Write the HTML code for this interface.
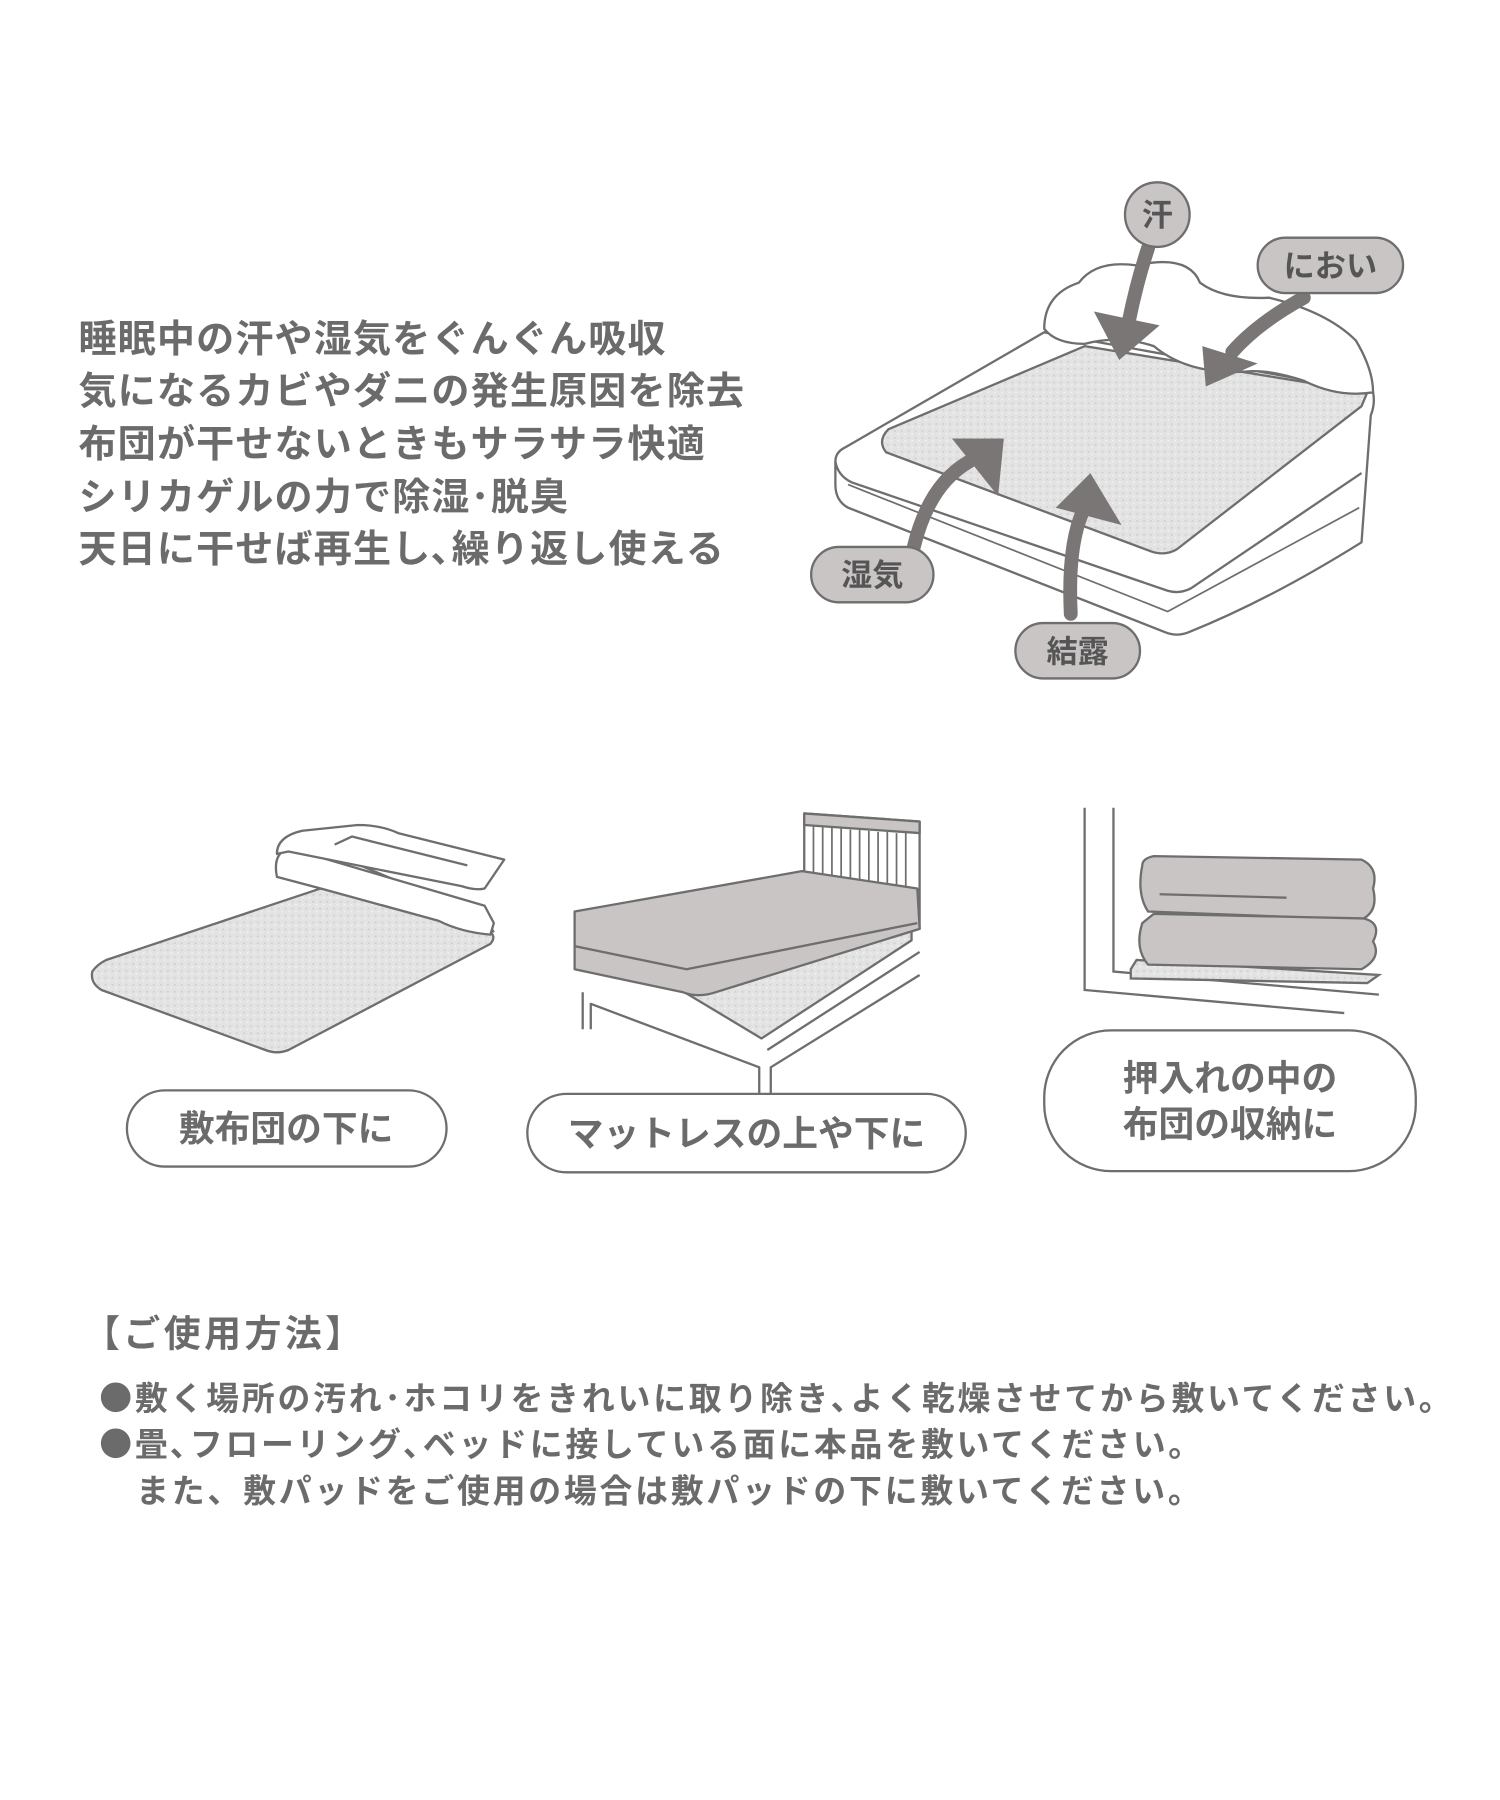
<!DOCTYPE html>
<html><head><meta charset="utf-8"><style>
html,body{margin:0;padding:0;background:#fff;width:1500px;height:1800px;overflow:hidden}
svg{display:block}
text{font-family:"Liberation Sans","Noto Sans CJK JP",sans-serif;font-weight:bold;fill:#6b6b6b}
.b{font-family:"Noto Sans CJK JP",sans-serif}
</style></head><body>
<svg width="1500" height="1800" viewBox="0 0 1300 1560" xmlns="http://www.w3.org/2000/svg">
<defs>
<pattern id="tx" width="6" height="6" patternUnits="userSpaceOnUse">
<rect width="6" height="6" fill="#e3e3e3"/><circle cx="1.5" cy="1.5" r="0.9" fill="#cfcfcf"/><circle cx="4.5" cy="4" r="0.8" fill="#f2f2f2"/>
</pattern>
</defs>
<g font-size="33" letter-spacing="1">
<text x="68" y="305">睡眠中の汗や湿気をぐんぐん吸収</text>
<text x="68" y="350">気になるカビやダニの発生原因を除去</text>
<text x="68" y="396">布団が干せないときもサラサラ快適</text>
<text x="68" y="442">シリカゲルの力で除湿･脱臭</text>
<text x="68" y="487">天日に干せば再生し､繰り返し使える</text>
</g>
<!-- mattress -->
<g stroke="#6e6e6e" stroke-width="2" fill="#fff" stroke-linejoin="round">
<path d="M732,388 L905,288 L1190,340 Q1192,350 1188,360 L1180,470 Q1100,520 1030,548 Q1020,552 1010,548 L735,440 Q724,434 724,420 L724,400 Q724,392 732,388Z"/>
<path d="M724,400 Q726,412 738,418 L1012,512 Q1022,515 1032,510 L1180,410" fill="none"/>
<path d="M735,420 L1012,530 L1178,440" fill="none" stroke-width="1.5"/>
<path d="M770,372 Q760,382 768,392 L998,478 Q1010,482 1020,476 L1180,352 L1185,340 L940,300 Z" fill="url(#tx)"/>
<path d="M905,285 Q905,255 935,245 Q950,225 985,230 Q1030,220 1040,245 Q1060,260 1100,258 Q1150,270 1175,295 Q1190,320 1190,340 Q1160,345 1130,330 Q1100,320 1080,322 Q1030,325 1000,300 Q970,290 940,298 Q915,298 905,285Z"/>
</g>
<g stroke="#7a7676" stroke-width="12" fill="none" stroke-linecap="round">
<path d="M995,215 Q985,245 978,280"/>
<path d="M1130,258 Q1090,280 1068,305"/>
<path d="M792,474 Q805,420 840,400"/>
<path d="M928,532 Q925,470 940,440"/>
</g>
<g fill="#7a7676">
<polygon points="948,270 1005,282 970,312"/>
<polygon points="1042,300 1090,315 1045,335"/>
<polygon points="825,380 870,380 865,430"/>
<polygon points="915,440 945,410 972,455"/>
</g>
<g fill="#c9c5c5" stroke="#6e6e6e" stroke-width="2">
<circle cx="1003" cy="186" r="28"/>
<rect x="1090" y="206" width="126" height="48" rx="24"/>
<rect x="703" y="474" width="106" height="48" rx="24"/>
<rect x="880" y="540" width="108" height="48" rx="24"/>
</g>
<g font-size="27" text-anchor="middle">
<text x="1003" y="196" style="fill:#555">汗</text>
<text x="1153" y="240" style="fill:#555">におい</text>
<text x="756" y="508" style="fill:#555">湿気</text>
<text x="934" y="574" style="fill:#555">結露</text>
</g>
<!-- futon -->
<g stroke="#6e6e6e" stroke-width="2" stroke-linejoin="round">
<path d="M92,832 L278,770 L420,805 Q432,810 425,818 L250,910 Q240,914 230,910 L88,858 Q78,852 80,842 Q84,836 92,832Z" fill="url(#tx)"/>
<path d="M278,770 Q270,760 276,748 L300,745 L420,795 L428,808" fill="#fff"/>
<path d="M240,760 Q236,740 250,735 L420,785 L428,800 L425,810 Q400,808 380,798 L278,770 Z" fill="#fff"/>
<path d="M240,740 Q240,725 262,720 L310,715 Q330,715 345,722 L437,745 L420,770 Q412,772 400,768 L250,738Z" fill="#fff"/>
<path d="M290,732 L305,725 L405,750" fill="none"/>
</g>
<!-- bed -->
<g stroke="#6e6e6e" stroke-width="2" stroke-linejoin="round">
<path d="M697,705 L797,712 L797,805 L697,790Z" fill="#fff"/>
<path d="M697,705 L797,712 L797,722 L697,715Z" fill="#c9c5c5"/>
<g stroke-width="1.5"><path d="M705,716V790M713,717V792M721,717V793M729,718V794M737,719V795M745,719V797M753,720V798M761,721V799M769,721V800M777,722V801M785,722V803"/></g>
<path d="M505,860 L505,892 M512,892 L512,870 L658,925 L658,960 M668,960 L668,925 L797,845 M665,910 L797,825" fill="none"/>
<path d="M590,858 L720,790 L790,800 L790,815 L660,900 Z" fill="url(#tx)"/>
<path d="M498,790 L695,755 L795,770 L797,805 L620,860 Q605,865 592,860 L498,840Z" fill="#c9c5c5"/>
<path d="M498,820 L595,840 L795,800" fill="none"/>
</g>
<!-- closet -->
<g stroke="#6e6e6e" stroke-width="2" fill="none">
<path d="M940,700 V858 L1165,878"/>
<path d="M965,700 V842 L1195,862"/>
<path d="M980,840 L985,832 L1195,845 L1185,852 L980,848Z" fill="url(#tx)"/>
<path d="M990,750 Q985,775 995,790 L1180,797 Q1195,790 1190,770 Q1195,752 1180,745 L1000,742 Q990,744 990,750Z" fill="#c9c5c5"/>
<path d="M990,800 Q983,822 995,836 L1180,840 Q1198,830 1190,816 Q1198,800 1182,796 L1000,792Z" fill="#c9c5c5"/>
<path d="M1005,775 L1115,778"/>
</g>
<!-- labels -->
<g fill="#fff" stroke="#6e6e6e" stroke-width="2">
<rect x="110" y="945" width="277" height="66" rx="33"/>
<rect x="457" y="948" width="380" height="68" rx="34"/>
<rect x="905" y="893" width="322" height="122" rx="58"/>
</g>
<g font-size="31" text-anchor="middle">
<text x="248" y="989">敷布団の下に</text>
<text x="647" y="993">マットレスの上や下に</text>
<text x="1066" y="945">押入れの中の</text>
<text x="1066" y="985">布団の収納に</text>
</g>
<text x="72" y="1167" font-size="32" letter-spacing="3">【ご使用方法】</text>
<g font-size="28.5" letter-spacing="2.4">
<text x="86" y="1222"><tspan class="b">●</tspan>敷く場所の汚れ･ホコリをきれいに取り除き､よく乾燥させてから敷いてください｡</text>
<text x="86" y="1262"><tspan class="b">●</tspan>畳､フローリング､ベッドに接している面に本品を敷いてください｡</text>
<text x="118" y="1302">また、敷パッドをご使用の場合は敷パッドの下に敷いてください。</text>
</g>
</svg>
</body></html>
